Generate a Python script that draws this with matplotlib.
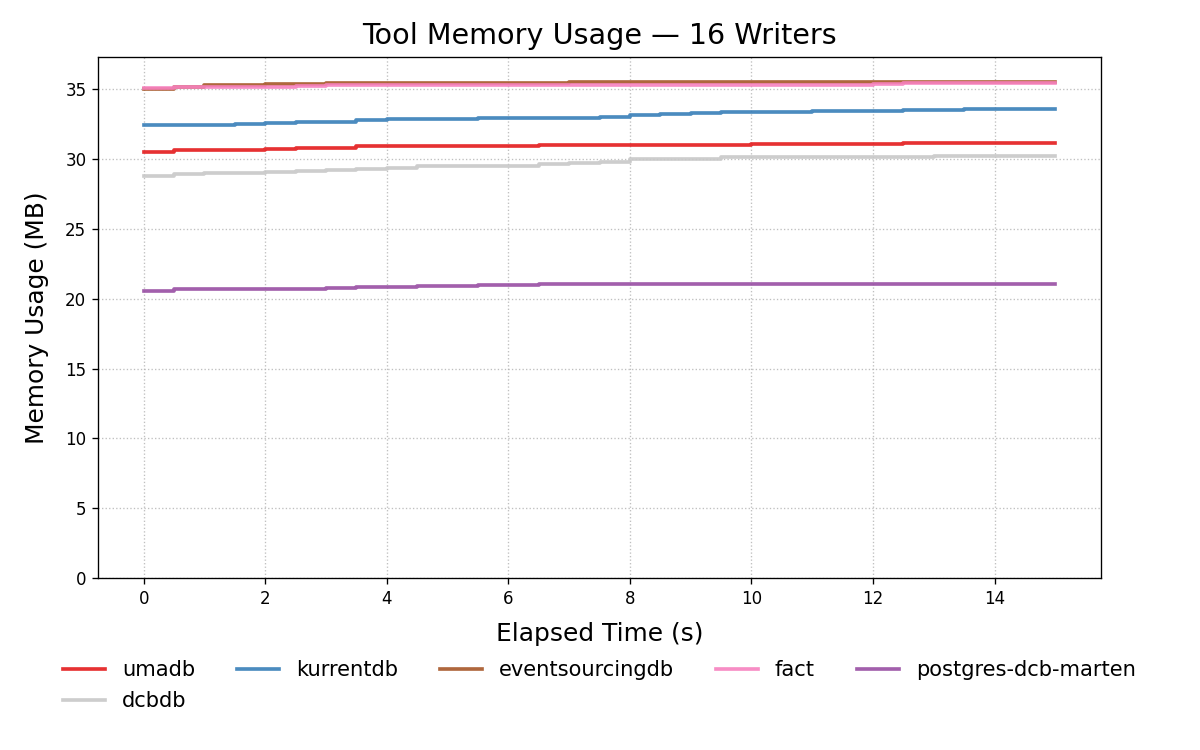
import matplotlib
matplotlib.use("Agg")
import matplotlib.pyplot as plt
import numpy as np

time_s = [i * 0.5 for i in range(31)]

umadb = [30.52] + [30.67]*3 + [30.74] + [30.81]*2 + [30.95]*6 + [31.02]*7 + [31.10]*5 + [31.17]*6
kurrentdb = ([32.45]*3 + [32.54] + [32.60] + [32.68]*2 + [32.80] + [32.87]*3 + [32.97]*4 +
             [33.04] + [33.16] + [33.26] + [33.33] + [33.40]*3 + [33.47]*3 + [33.54]*2 + [33.62]*4)
eventsourcingdb = [35.00, 35.20, 35.30, 35.35, 35.42, 35.42] + [35.45]*7 + [35.50] + [35.55]*17
fact = [35.14] + [35.19]*4 + [35.25] + [35.31]*18 + [35.40] + [35.45]*6
postgres_dcb_marten = [20.57] + [20.72]*5 + [20.79] + [20.86]*2 + [20.93]*2 + [21.00]*2 + [21.07]*18
dcbdb = ([28.81, 28.95, 29.02, 29.02, 29.09, 29.19, 29.26, 29.31, 29.38] + [29.52]*4 +
         [29.67, 29.74, 29.81] + [30.02]*3 + [30.17]*7 + [30.24]*5)

series_names = ["umadb", "kurrentdb", "eventsourcingdb", "fact", "postgres-dcb-marten", "dcbdb"]
series_values = [umadb, kurrentdb, eventsourcingdb, fact, postgres_dcb_marten, dcbdb]
colors = ["#e41a1c", "#377eb8", "#a65628", "#f781bf", "#984ea3", "#c8c8c8"]

fig, ax = plt.subplots(figsize=(10, 6.25), dpi=120)
fig.subplots_adjust(left=0.0817, right=0.9175, top=0.924, bottom=0.2293)

handles = {}
for name, vals, c in zip(series_names, series_values, colors):
    assert len(vals) == len(time_s), name
    (ln,) = ax.plot(time_s, vals, drawstyle="steps-post", color=c, lw=2.2, alpha=0.9, label=name)
    handles[name] = ln

ymax = max(max(v) for v in series_values)
ax.set_ylim(0, ymax * 1.05)
ax.tick_params(labelsize=10)
ax.set_xlabel("Elapsed Time (s)", fontsize=14.9, labelpad=8.5)
ax.set_ylabel("Memory Usage (MB)", fontsize=14.9, labelpad=10)
ax.set_title("Tool Memory Usage — 16 Writers", fontsize=17.2, pad=8)
ax.grid(True, linestyle=":", color="#b0b0b0", alpha=0.8)

# row-major ordering for a 5-column legend
order = ["umadb", "dcbdb", "kurrentdb", "eventsourcingdb", "fact", "postgres-dcb-marten"]
ax.legend([handles[n] for n in order], order, loc="upper center", bbox_to_anchor=(0.5, -0.122),
          ncol=5, frameon=False, fontsize=12.6)

fig.savefig("out.png", dpi=120)
